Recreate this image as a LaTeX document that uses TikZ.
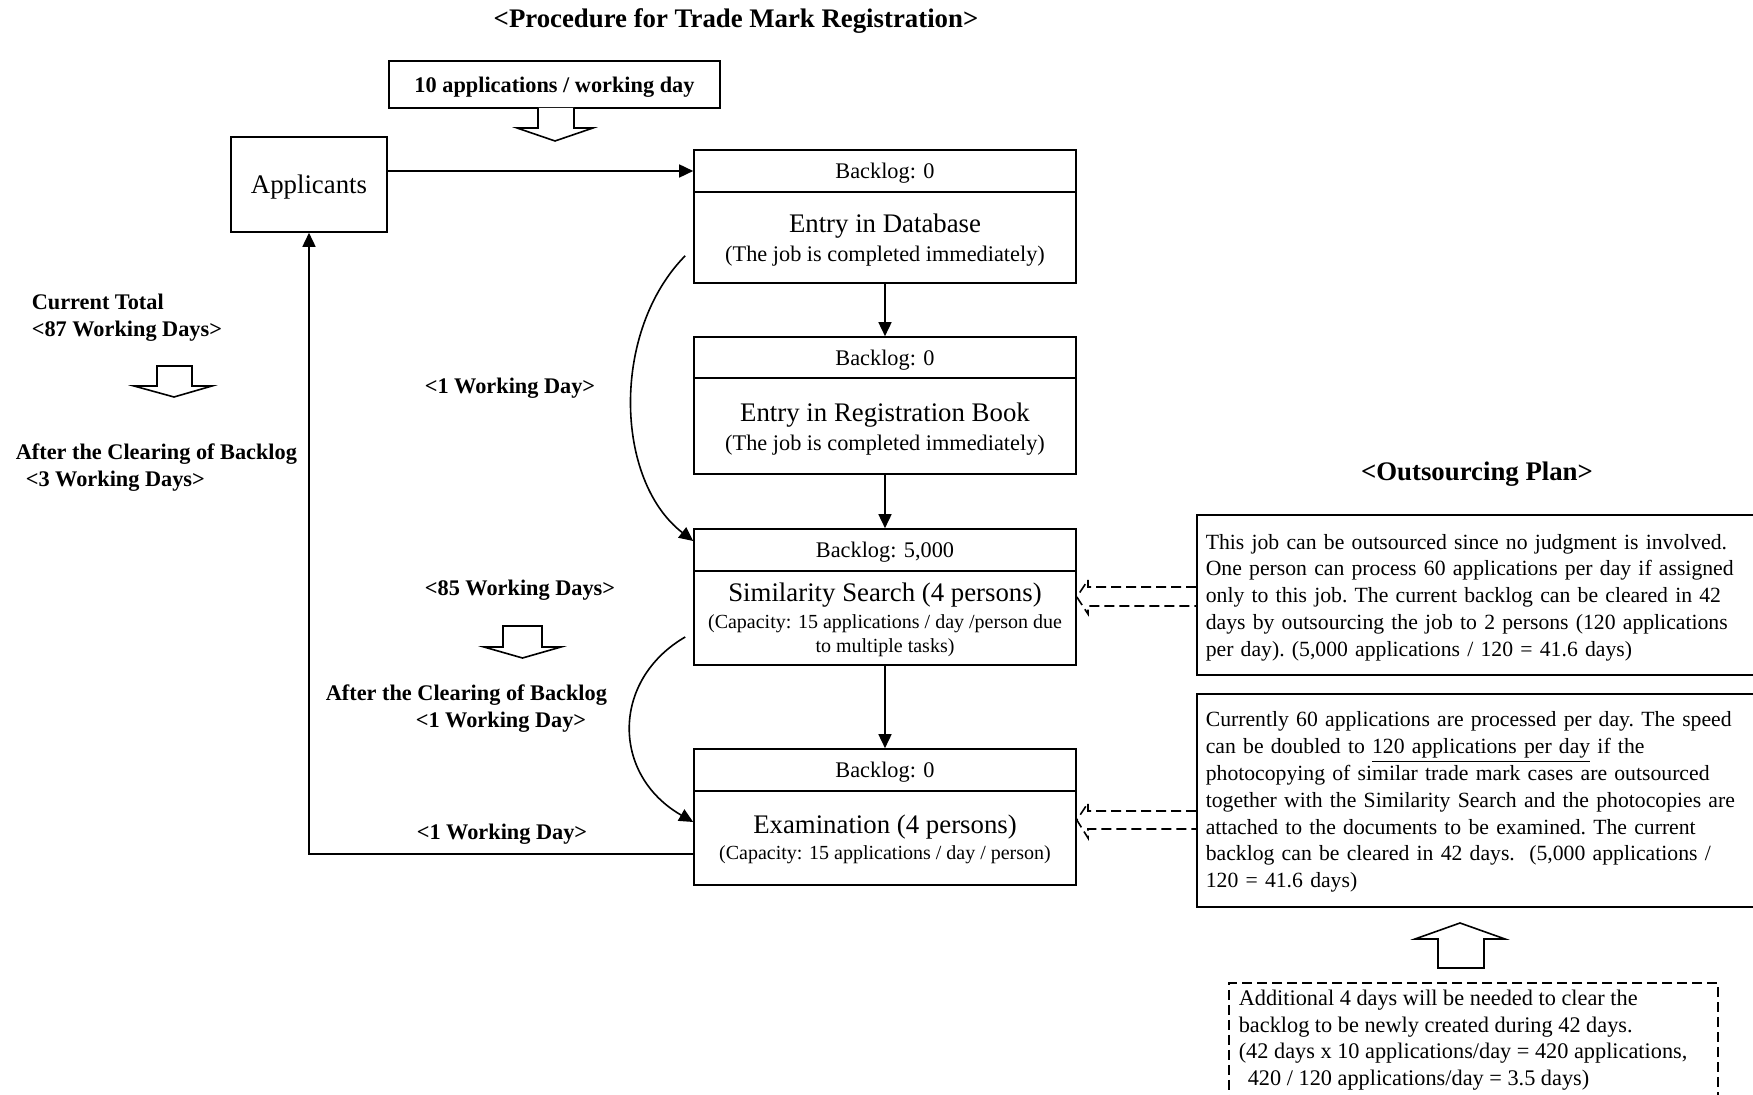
\documentclass[tikz,border=0pt]{standalone}
\usepackage{fontspec}
\setmainfont{Liberation Serif}
\usetikzlibrary{arrows.meta,calc}
\newcommand\mysmall{\fontsize{11.15}{13.4}\selectfont}
\newcommand\mybig{\fontsize{13.4}{16}\selectfont}
\newcommand\mycap{\fontsize{10}{12}\selectfont}
\newcommand\mynote{\fontsize{10.85}{13.4}\selectfont\frenchspacing}
\newcommand\topstrut[1]{\rule{0pt}{#1}}
\begin{document}
\begin{tikzpicture}[x=0.5pt,y=-0.5pt, line width=0.8pt,
  hdr/.style={draw, minimum width=191pt, minimum height=21pt, inner sep=0pt, font=\mysmall, text height=10.2pt, text depth=2.42pt},
  bodybox/.style={draw, minimum width=191pt, inner sep=0pt, align=center, font=\fontsize{11.15}{12}\selectfont},
  note/.style={draw, anchor=north west, align=left, text width=290pt, inner xsep=4.5pt, inner ysep=0pt, font=\mynote},
  lbl/.style={font=\mysmall\bfseries, inner sep=0pt, yshift=-1.1pt},
  mlbl/.style={font=\mysmall\bfseries, inner sep=0pt, yshift=-0.5pt, anchor=west, align=left},
  arr/.style={-{Triangle[length=7pt,width=6.5pt]}},
  dashline/.style={dash pattern=on 5pt off 2.5pt, line join=miter},
  blockarr/.style={draw, fill=white, line width=0.8pt, line join=miter}
]
\useasboundingbox (0,0) rectangle (1753,1095);

% title
\node[font=\mybig\bfseries, inner sep=0pt, yshift=-1.1pt] (title) at (736,19) {<Procedure for Trade Mark Registration>};

% input box and applicants
\node[draw, minimum width=165.5pt, minimum height=23.5pt, inner sep=0pt, font=\mysmall\bfseries, text height=10.2pt, text depth=2.3pt] (input) at (554.5,84.5) {10 applications / working day};
\draw[blockarr] (538,108) -- (538,128) -- (517,128) -- (555,141) -- (593,128) -- (574,128) -- (574,108);
\node[draw, minimum width=78pt, minimum height=47.5pt, inner sep=0pt, font=\mybig, text height=12.2pt, text depth=2.9pt] (app) at (309,184.5) {Applicants};

% process boxes
\node[hdr] (dbh) at (885,171) {Backlog: 0};
\node[bodybox, minimum height=45.5pt] (db) at (885,237.5) {{\mybig\topstrut{12pt}Entry in Database}\\[2.26pt](The job is completed immediately)};

\node[hdr, minimum height=20.5pt] (regh) at (885,357.5) {Backlog: 0};
\node[bodybox, minimum height=48pt] (reg) at (885,426) {{\mybig\topstrut{12.5pt}Entry in Registration Book}\\[2.26pt](The job is completed immediately)};

\node[hdr] (simh) at (885,550) {Backlog: 5,000};
\node[bodybox, minimum height=47pt] (sim) at (885,618) {{\mybig\topstrut{11.4pt}Similarity Search (4 persons)}\\[1.38pt]{\mycap (Capacity: 15 applications / day /person due}\\{\mycap to multiple tasks)}};

\node[hdr] (examh) at (885,770) {Backlog: 0};
\node[bodybox, minimum height=47pt] (exam) at (885,838) {{\mybig\topstrut{10.9pt}Examination (4 persons)}\\[0.88pt]{\mycap (Capacity: 15 applications / day / person)}};

% connectors
\draw[arr] (app.east |- dbh.west) -- (dbh.west);
\draw[arr] (db.south) -- (regh.north);
\draw[arr] (reg.south) -- (simh.north);
\draw[arr] (sim.south) -- (examh.north);
\draw[arr] ($(exam.south west)+(0,-32)$) -| (app.south);
\draw[arr] ($(db.south west)+(-8,-28)$) .. controls +(-74,75) and +(-79,-61) .. ($(simh.west)+(0,-9)$);
\draw[arr] ($(sim.west)+(-8,19)$) .. controls +(-74,43) and +(-82,-47) .. ($(exam.west)+(0,-16)$);

% left labels
\node[mlbl] (cur) at (31,317) {Current Total\\<87 Working Days>};
\draw[blockarr] (157,366) -- (192,366) -- (192,386) -- (212,386) -- (174,397) -- (134,386) -- (157,386) -- cycle;
\node[mlbl] (after1) at (15,466.5) {After the Clearing of Backlog\\\hspace*{5pt}<3 Working Days>};

\node[lbl] (d1) at (510,386) {<1 Working Day>};
\node[lbl] (d85) at (520,588) {<85 Working Days>};
\draw[blockarr] (503,626) -- (542,626) -- (542,647) -- (561,647) -- (522.5,658) -- (484,647) -- (503,647) -- cycle;
\node[mlbl] (after2) at (325,707.5) {After the Clearing of Backlog\\\hspace*{45pt}<1 Working Day>};
\node[lbl] (d1b) at (502,832) {<1 Working Day>};

% outsourcing plan
\node[font=\mybig\bfseries, inner sep=0pt, yshift=-1.1pt] (plan) at (1477,472) {<Outsourcing Plan>};
\node[note, minimum height=80pt, text height=10.2pt] (o1) at (1196,514) {This job can be outsourced since no judgment is involved.\\
One person can process 60 applications per day if assigned\\
only to this job. The current backlog can be cleared in 42\\
days by outsourcing the job to 2 persons (120 applications\\
per day). (5,000 applications / 120 = 41.6 days)};
\node[note, minimum height=106.5pt, text height=9.3pt] (o2) at (1196,693) {Currently 60 applications are processed per day. The speed\\
can be doubled to \underline{120 applications per day} if the\\
photocopying of similar trade mark cases are outsourced\\
together with the Similarity Search and the photocopies are\\
attached to the documents to be examined. The current\\
backlog can be cleared in 42 days.\ \ (5,000 applications /\\
120 = 41.6 days)};

% dashed open block arrows
\draw[dashline] (o1.west |- 0,587) -- (1088,587) -- (1088,580) -- (sim.east |- 0,597) -- (1088,614) -- (1088,606) -- (o1.west |- 0,606);
\draw[dashline] (o2.west |- 0,811) -- (1088,811) -- (1088,803) -- (exam.east |- 0,820) -- (1088,838) -- (1088,829) -- (o2.west |- 0,829);

% additional note
\draw[blockarr] (1438,968) -- (1438,939) -- (1415,939) -- (1460,923) -- (1505,939) -- (1484,939) -- (1484,968) -- cycle;
\node[draw, dashline, anchor=north west, minimum width=244.5pt, minimum height=70pt, inner sep=0pt] (extrabox) at (1228,982) {};
\node[anchor=north west, align=left, inner sep=0pt, font=\mysmall] (extra) at (1238,989) {Additional 4 days will be needed to clear the\\
backlog to be newly created during 42 days.\\
(42 days x 10 applications/day = 420 applications,\\
\hspace*{4.5pt}420 / 120 applications/day = 3.5 days)};
\end{tikzpicture}
\end{document}
